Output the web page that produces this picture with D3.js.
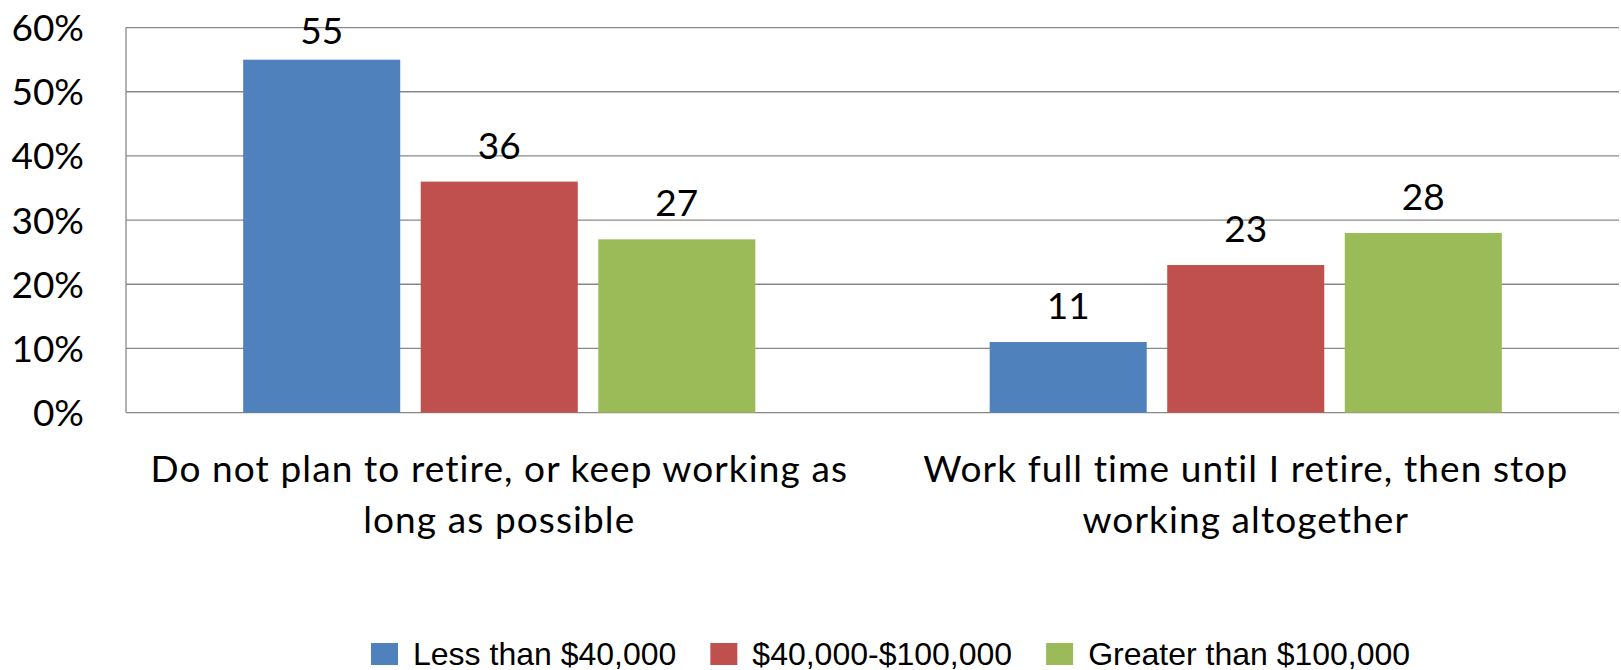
<!DOCTYPE html>
<html>
<head>
<meta charset="utf-8">
<script src="https://cdn.jsdelivr.net/npm/d3@7/dist/d3.min.js"></script>
<style>
  html, body { margin: 0; padding: 0; background: #ffffff; }
  svg { display: block; }
</style>
</head>
<body>
<svg id="chart" width="1621" height="670"></svg>
<script>
// Retirement plans by household income (percent of respondents)
const categories = ["plan-none", "plan-full"];
const categoryLines = [
  ["Do not plan to retire, or keep working as", "long as possible"],
  ["Work full time until I retire, then stop", "working altogether"]
];
const seriesNames = ["Less than $40,000", "$40,000-$100,000", "Greater than $100,000"];
const lessThan40k = [55, 11];
const from40kTo100k = [36, 23];
const over100k = [27, 28];
const yTicks = [0, 10, 20, 30, 40, 50, 60];
const seriesColors = ["#4F81BD", "#C0504D", "#9BBB59"];

const seriesValues = [lessThan40k, from40kTo100k, over100k];

const svg = d3.select("#chart");
const plot = { left: 126, right: 1619, top: 27.6, bottom: 412.6 };
const mainFont = "Lato, 'Open Sans', sans-serif";
const legendFont = "'Liberation Sans', Arial, sans-serif";
const gridColor = "#888888";

const x0 = d3.scaleBand()
  .domain(categories)
  .range([plot.left, plot.right])
  .padding(0);

const x1 = d3.scaleBand()
  .domain(seriesNames)
  .range([0, x0.bandwidth()])
  .paddingInner(0.1155)
  .paddingOuter(0.66);

const y = d3.scaleLinear()
  .domain([0, 60])
  .range([plot.bottom, plot.top]);

// horizontal gridlines
svg.append("g")
  .selectAll("line")
  .data(yTicks)
  .join("line")
  .attr("x1", plot.left)
  .attr("x2", plot.right)
  .attr("y1", d => y(d))
  .attr("y2", d => y(d))
  .attr("stroke", gridColor)
  .attr("stroke-width", 1.3);

// vertical axis line
svg.append("line")
  .attr("x1", plot.left).attr("x2", plot.left)
  .attr("y1", y(60)).attr("y2", y(0))
  .attr("stroke", gridColor)
  .attr("stroke-width", 1.3);

// y tick labels
svg.append("g")
  .selectAll("text")
  .data(yTicks)
  .join("text")
  .attr("x", 84)
  .attr("y", d => y(d) + 13.5)
  .attr("text-anchor", "end")
  .attr("font-family", mainFont)
  .attr("font-size", 37)
  .attr("fill", "#000")
  .text(d => d + "%");

// bars
const barData = [];
categories.forEach((c, ci) => {
  seriesNames.forEach((s, si) => {
    barData.push({ cat: c, series: s, si, value: seriesValues[si][ci] });
  });
});

svg.append("g")
  .selectAll("rect")
  .data(barData)
  .join("rect")
  .attr("x", d => x0(d.cat) + x1(d.series))
  .attr("width", x1.bandwidth())
  .attr("y", d => y(d.value))
  .attr("height", d => y(0) - y(d.value))
  .attr("fill", d => seriesColors[d.si]);

// value labels above bars
svg.append("g")
  .selectAll("text")
  .data(barData)
  .join("text")
  .attr("x", d => x0(d.cat) + x1(d.series) + x1.bandwidth() / 2)
  .attr("y", d => Math.max(y(d.value) - 23, 44))
  .attr("text-anchor", "middle")
  .attr("font-family", mainFont)
  .attr("font-size", 37)
  .attr("fill", "#000")
  .text(d => d.value);

// category labels (two lines each)
const catGroup = svg.append("g");
categories.forEach((c, ci) => {
  const cx = x0(c) + x0.bandwidth() / 2;
  catGroup.append("text")
    .attr("text-anchor", "middle")
    .attr("font-family", mainFont)
    .attr("font-size", 37)
    .attr("letter-spacing", 1.1)
    .attr("fill", "#000")
    .selectAll("tspan")
    .data(categoryLines[ci])
    .join("tspan")
    .attr("x", cx)
    .attr("y", (d, i) => 482 + i * 50.5)
    .text(d => d);
});

// legend
const legend = svg.append("g");
let lx = 371;
seriesNames.forEach((name, i) => {
  legend.append("rect")
    .attr("x", lx)
    .attr("y", 643)
    .attr("width", 27)
    .attr("height", 22)
    .attr("fill", seriesColors[i]);
  const t = legend.append("text")
    .attr("x", lx + 42)
    .attr("y", 664.5)
    .attr("font-family", legendFont)
    .attr("font-size", 32)
    .attr("fill", "#000")
    .text(name);
  lx += 42 + t.node().getComputedTextLength() + 34;
});
</script>
</body>
</html>
